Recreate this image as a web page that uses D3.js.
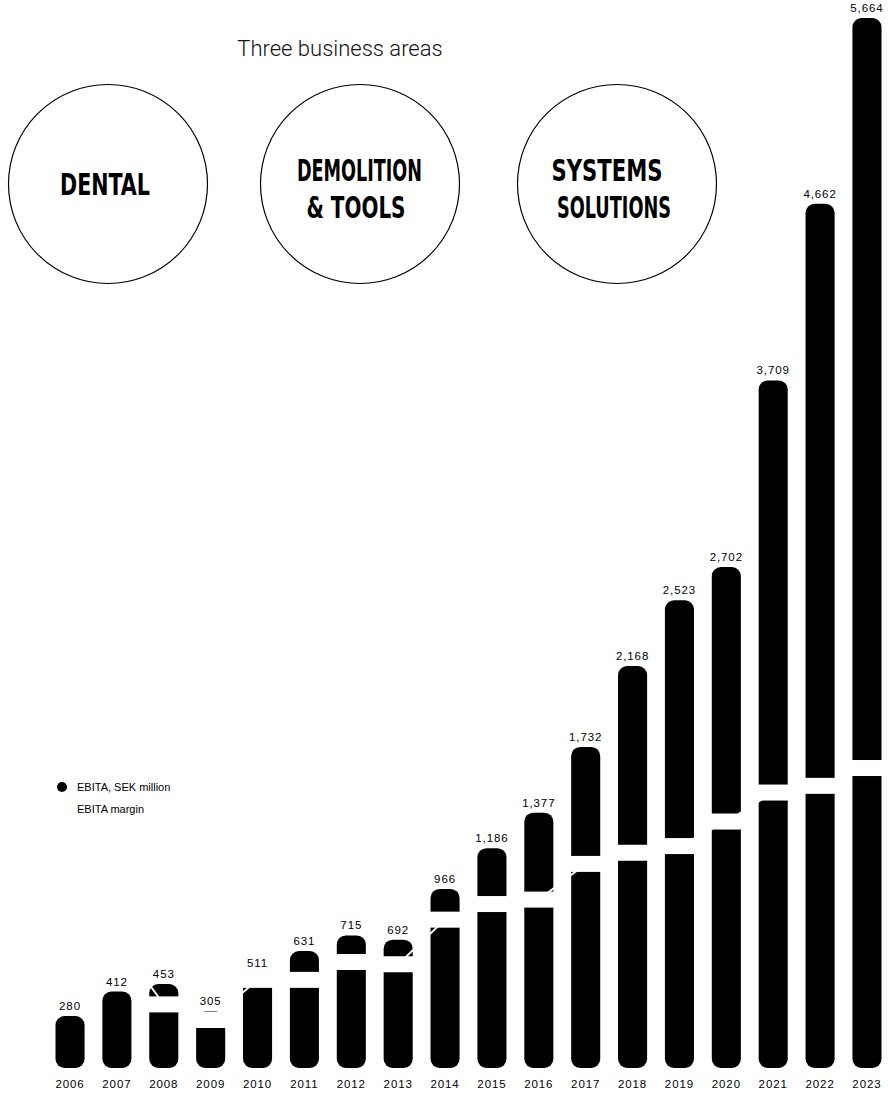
<!DOCTYPE html>
<html>
<head>
<meta charset="utf-8">
<script src="https://cdn.jsdelivr.net/npm/d3@7"></script>
<style>
  body { margin: 0; background: #fff; }
  svg { display: block; }
</style>
</head>
<body>
<script>
// EBITA per year (SEK million) and EBITA margin (%)
const years = ["2006","2007","2008","2009","2010","2011","2012","2013","2014",
               "2015","2016","2017","2018","2019","2020","2021","2022","2023"];
const ebita = [280, 412, 453, 305, 511, 631, 715, 692, 966,
               1186, 1377, 1732, 2168, 2523, 2702, 3709, 4662, 5664];
const ebitaMargin = [13.5, 14.9, 12.0, 11.3, 13.1, 13.1, 13.9, 13.8, 15.8,
                     16.5, 16.7, 18.3, 18.8, 19.1, 20.2, 21.5, 21.8, 22.6];

// Business areas shown as circles (one entry per text line)
const areaLines = [["DENTAL"], ["DEMOLITION", "& TOOLS"], ["SYSTEMS", "SOLUTIONS"]];
const legendLabels = ["EBITA, SEK million", "EBITA margin"];
const title = "Three business areas";

const W = 889, H = 1093;
const svg = d3.select("body").append("svg")
  .attr("width", W).attr("height", H)
  .attr("viewBox", `0 0 ${W} ${H}`);

const numFont = "'Liberation Sans', Arial, Helvetica, sans-serif";

// Scales
const x = d3.scaleBand().domain(years).range([55.5, 881.5])
  .paddingInner(0.38).paddingOuter(0);
const y = d3.scaleLinear().domain([0, d3.max(ebita)]).range([1068, 18]);
const yMargin = d3.scaleLinear().domain([10, 25]).range([1049, 714.5]);
const bw = x.bandwidth();

const data = years.map((yr, i) => ({ year: yr, value: ebita[i], margin: ebitaMargin[i] }));

// Title
svg.append("text")
  .attr("x", 340).attr("y", 56)
  .attr("text-anchor", "middle")
  .attr("font-family", "Roboto, 'Liberation Sans', sans-serif")
  .attr("font-weight", 300)
  .attr("font-size", 22)
  .attr("fill", "#111")
  .text(title);

// Business area circles with condensed bold labels
const circleX = [108, 360, 617];
const lineLayouts = [
  [{ cx: 105, base: 195, w: 90 }],
  [{ cx: 359.5, base: 181, w: 125 }, { cx: 356, base: 218, w: 99 }],
  [{ cx: 607, base: 181, w: 111 }, { cx: 614, base: 218, w: 114 }]
];
const areas = svg.append("g");
areaLines.forEach((lines, i) => {
  areas.append("circle")
    .attr("cx", circleX[i]).attr("cy", 184).attr("r", 99.5)
    .attr("fill", "none").attr("stroke", "#000").attr("stroke-width", 1.2);
  lines.forEach((line, j) => {
    const L = lineLayouts[i][j];
    areas.append("text")
      .attr("x", L.cx - L.w / 2).attr("y", L.base)
      .attr("textLength", L.w).attr("lengthAdjust", "spacingAndGlyphs")
      .attr("font-family", "'Liberation Sans Narrow', 'DejaVu Sans Condensed', 'Liberation Sans', sans-serif")
      .attr("font-weight", 700)
      .attr("font-size", 31)
      .attr("fill", "#000")
      .text(line);
  });
});

// Bars
const bars = svg.append("g");
bars.selectAll("rect").data(data).join("rect")
  .attr("x", d => x(d.year))
  .attr("y", d => y(d.value))
  .attr("width", bw)
  .attr("height", d => y(0) - y(d.value))
  .attr("rx", 9).attr("ry", 9)
  .attr("fill", "#000");

// Margin line: thin white connector between years plus a white band across each bar
const marginG = svg.append("g");
marginG.append("path")
  .datum(data)
  .attr("fill", "none")
  .attr("stroke", "#fff")
  .attr("stroke-width", 1.8)
  .attr("d", d3.line().x(d => x(d.year) + bw / 2).y(d => yMargin(d.margin)));
marginG.selectAll("rect").data(data).join("rect")
  .attr("x", d => x(d.year) - 1)
  .attr("y", d => yMargin(d.margin) - 8)
  .attr("width", bw + 2)
  .attr("height", 16)
  .attr("fill", "#fff");

// Value labels
svg.append("g").selectAll("text").data(data).join("text")
  .attr("x", d => x(d.year) + bw / 2)
  .attr("y", d => y(d.value) - 6)
  .attr("text-anchor", "middle")
  .attr("font-family", numFont)
  .attr("font-size", 11.5)
  .attr("letter-spacing", 0.9)
  .attr("fill", "#000")
  .text(d => d3.format(",")(d.value));

// Year axis
const xAxis = svg.append("g")
  .attr("transform", "translate(0,1077)")
  .call(d3.axisBottom(x).tickSize(0).tickPadding(0));
xAxis.select(".domain").remove();
xAxis.selectAll("text")
  .attr("dy", "0.95em")
  .attr("font-family", numFont)
  .attr("font-size", 11.5)
  .attr("letter-spacing", 0.9)
  .attr("fill", "#000");

// Legend
const legend = svg.append("g").attr("font-family", numFont).attr("font-size", 11).attr("fill", "#000");
legend.append("circle").attr("cx", 62).attr("cy", 787).attr("r", 5).attr("fill", "#000");
legend.append("line").attr("x1", 56).attr("x2", 68).attr("y1", 809).attr("y2", 809)
  .attr("stroke", "#fff").attr("stroke-width", 2);
legend.selectAll("text").data(legendLabels).join("text")
  .attr("x", 77)
  .attr("y", (d, i) => 791 + i * 22)
  .text(d => d);
</script>
</body>
</html>
